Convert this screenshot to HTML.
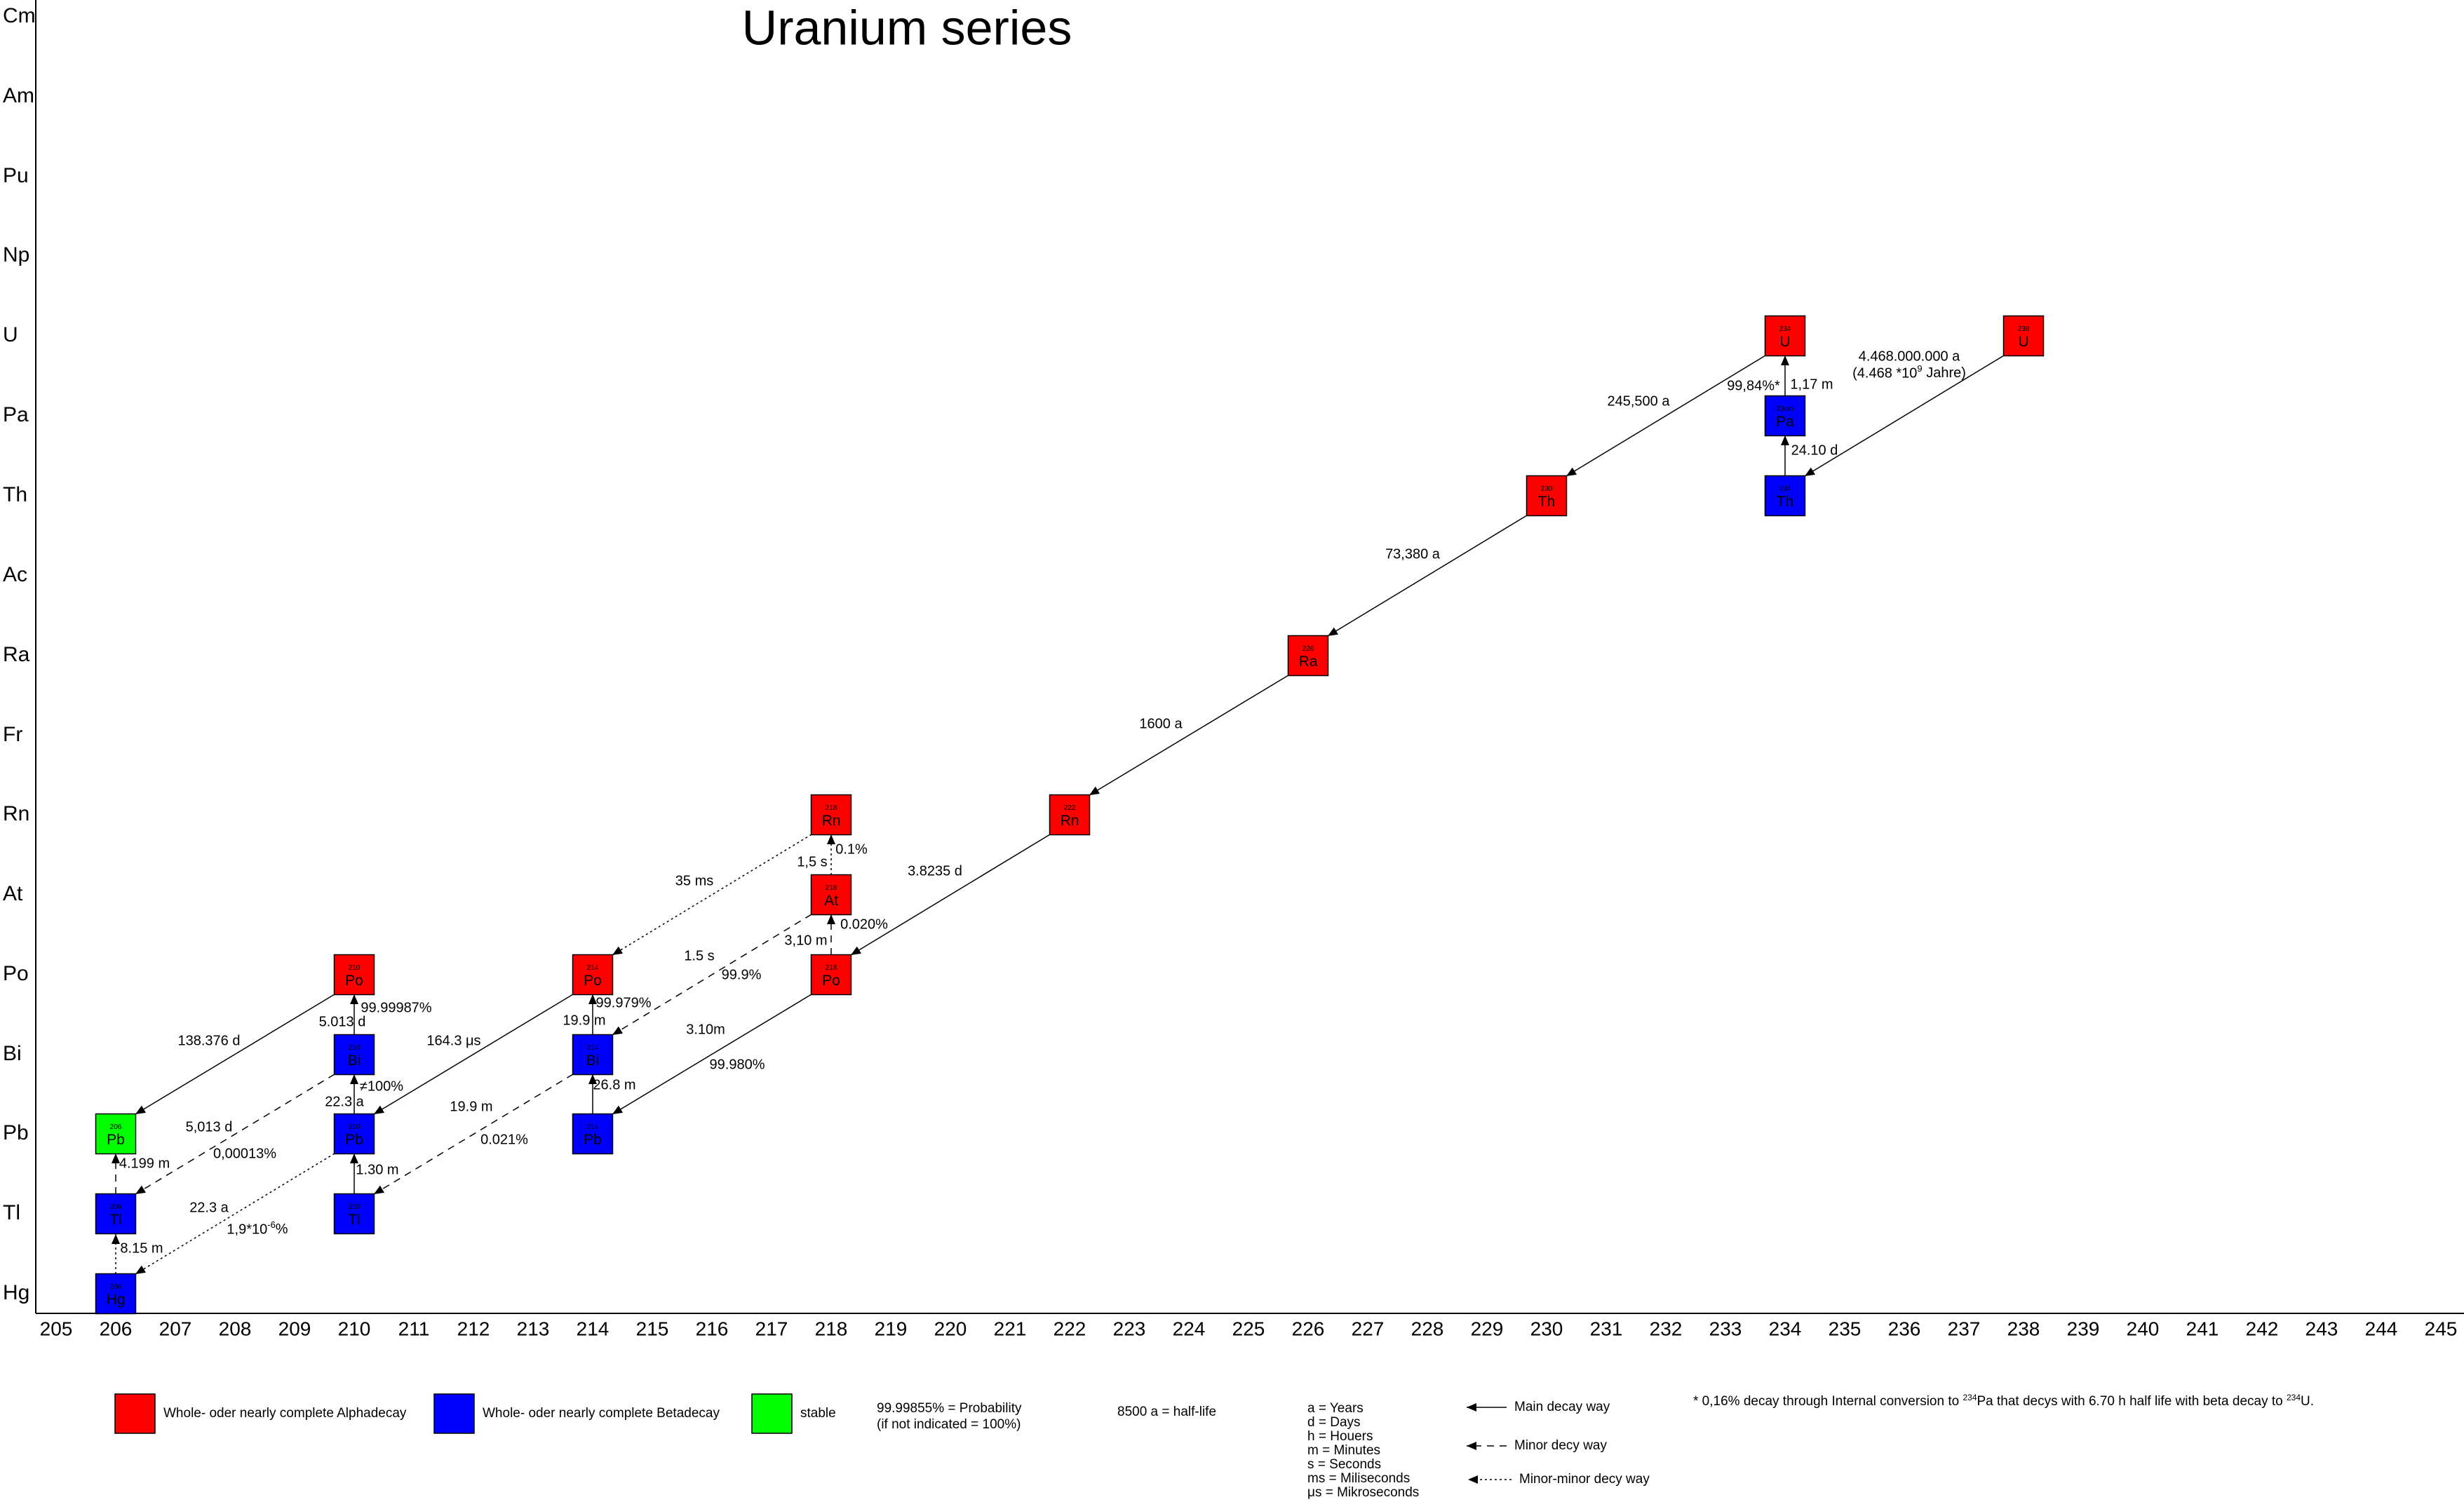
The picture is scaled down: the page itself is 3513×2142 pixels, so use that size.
<!DOCTYPE html>
<html><head><meta charset="utf-8"><style>
body{margin:0;background:#fff}
svg{display:block;font-family:"Liberation Sans",sans-serif}
.l{font-size:20px;text-anchor:middle;dominant-baseline:middle}
.e{font-size:30px;dominant-baseline:middle}
.t{font-size:28px;text-anchor:middle;dominant-baseline:middle}
.g{font-size:19px;dominant-baseline:middle}
.s{font-size:10px;text-anchor:middle}
.y{font-size:21px;text-anchor:middle}
</style></head><body>
<svg width="3513" height="2142" viewBox="0 0 3513 2142" xmlns="http://www.w3.org/2000/svg">
<defs><marker id="a" markerUnits="userSpaceOnUse" markerWidth="16" markerHeight="16" refX="14" refY="6" orient="auto"><path d="M0,0 L14,6 L0,12 z" fill="#000"/></marker></defs>
<text x="1293" y="45" font-size="70" text-anchor="middle" dominant-baseline="middle">Uranium series</text>
<line x1="51" y1="0" x2="51" y2="1873" stroke="#000" stroke-width="2"/>
<line x1="51" y1="1873" x2="3513" y2="1873" stroke="#000" stroke-width="2"/>
<g class="e">
<text x="4" y="24">Cm</text><text x="4" y="138">Am</text><text x="4" y="252">Pu</text><text x="4" y="365">Np</text><text x="4" y="479">U</text><text x="4" y="593">Pa</text><text x="4" y="707">Th</text><text x="4" y="821">Ac</text><text x="4" y="935">Ra</text><text x="4" y="1049">Fr</text><text x="4" y="1162">Rn</text><text x="4" y="1276">At</text><text x="4" y="1390">Po</text><text x="4" y="1504">Bi</text><text x="4" y="1617">Pb</text><text x="4" y="1731">Tl</text><text x="4" y="1845">Hg</text>
</g>
<g class="t">
<text x="80" y="1897">205</text><text x="165" y="1897">206</text><text x="250" y="1897">207</text><text x="335" y="1897">208</text><text x="420" y="1897">209</text><text x="505" y="1897">210</text><text x="590" y="1897">211</text><text x="675" y="1897">212</text><text x="760" y="1897">213</text><text x="845" y="1897">214</text><text x="930" y="1897">215</text><text x="1015" y="1897">216</text><text x="1100" y="1897">217</text><text x="1185" y="1897">218</text><text x="1270" y="1897">219</text><text x="1355" y="1897">220</text><text x="1440" y="1897">221</text><text x="1525" y="1897">222</text><text x="1610" y="1897">223</text><text x="1695" y="1897">224</text><text x="1780" y="1897">225</text><text x="1865" y="1897">226</text><text x="1950" y="1897">227</text><text x="2035" y="1897">228</text><text x="2120" y="1897">229</text><text x="2205" y="1897">230</text><text x="2290" y="1897">231</text><text x="2375" y="1897">232</text><text x="2460" y="1897">233</text><text x="2545" y="1897">234</text><text x="2630" y="1897">235</text><text x="2715" y="1897">236</text><text x="2800" y="1897">237</text><text x="2885" y="1897">238</text><text x="2970" y="1897">239</text><text x="3055" y="1897">240</text><text x="3140" y="1897">241</text><text x="3225" y="1897">242</text><text x="3310" y="1897">243</text><text x="3395" y="1897">244</text><text x="3480" y="1897">245</text>
</g>
<g stroke="#000" stroke-width="1.5" marker-end="url(#a)" fill="none">
<line x1="2857" y1="507" x2="2573" y2="679"/>
<line x1="2517" y1="507" x2="2233" y2="679"/>
<line x1="2177" y1="735" x2="1893" y2="907"/>
<line x1="1837" y1="963" x2="1553" y2="1134"/>
<line x1="1497" y1="1190" x2="1213" y2="1362"/>
<line x1="1157" y1="1418" x2="873" y2="1589"/>
<line x1="817" y1="1418" x2="533" y2="1589"/>
<line x1="477" y1="1418" x2="193" y2="1589"/>
<line x1="2545" y1="679" x2="2545" y2="621"/>
<line x1="2545" y1="565" x2="2545" y2="507"/>
<line x1="845" y1="1589" x2="845" y2="1532"/>
<line x1="845" y1="1476" x2="845" y2="1418"/>
<line x1="505" y1="1703" x2="505" y2="1645"/>
<line x1="505" y1="1589" x2="505" y2="1532"/>
<line x1="505" y1="1476" x2="505" y2="1418"/>
</g>
<g stroke="#000" stroke-width="1.5" marker-end="url(#a)" fill="none" stroke-dasharray="10,8">
<line x1="1157" y1="1304" x2="873" y2="1476"/>
<line x1="817" y1="1532" x2="533" y2="1703"/>
<line x1="477" y1="1532" x2="193" y2="1703"/>
<line x1="165" y1="1703" x2="165" y2="1645"/>
<line x1="1185" y1="1362" x2="1185" y2="1304"/>
</g>
<g stroke="#000" stroke-width="1.5" marker-end="url(#a)" fill="none" stroke-dasharray="3,4">
<line x1="1157" y1="1190" x2="873" y2="1362"/>
<line x1="477" y1="1645" x2="193" y2="1817"/>
<line x1="165" y1="1817" x2="165" y2="1760"/>
<line x1="1185" y1="1248" x2="1185" y2="1190"/>
</g>
<g stroke="#000" stroke-width="1.5">
<rect x="2856.5" y="450.5" width="57" height="57" fill="#f00"/>
<rect x="2516.5" y="450.5" width="57" height="57" fill="#f00"/>
<rect x="2516.5" y="564.5" width="57" height="57" fill="#00f"/>
<rect x="2516.5" y="678.5" width="57" height="57" fill="#00f"/>
<rect x="2176.5" y="678.5" width="57" height="57" fill="#f00"/>
<rect x="1836.5" y="906.5" width="57" height="57" fill="#f00"/>
<rect x="1496.5" y="1133.5" width="57" height="57" fill="#f00"/>
<rect x="1156.5" y="1361.5" width="57" height="57" fill="#f00"/>
<rect x="1156.5" y="1247.5" width="57" height="57" fill="#f00"/>
<rect x="1156.5" y="1133.5" width="57" height="57" fill="#f00"/>
<rect x="816.5" y="1588.5" width="57" height="57" fill="#00f"/>
<rect x="816.5" y="1475.5" width="57" height="57" fill="#00f"/>
<rect x="816.5" y="1361.5" width="57" height="57" fill="#f00"/>
<rect x="476.5" y="1702.5" width="57" height="57" fill="#00f"/>
<rect x="476.5" y="1588.5" width="57" height="57" fill="#00f"/>
<rect x="476.5" y="1475.5" width="57" height="57" fill="#00f"/>
<rect x="476.5" y="1361.5" width="57" height="57" fill="#f00"/>
<rect x="136.5" y="1816.5" width="57" height="57" fill="#00f"/>
<rect x="136.5" y="1702.5" width="57" height="57" fill="#00f"/>
<rect x="136.5" y="1588.5" width="57" height="57" fill="#0f0"/>
</g>
<g>
<text class="s" x="2885" y="472">238</text><text class="y" x="2885" y="494">U</text>
<text class="s" x="2545" y="472">234</text><text class="y" x="2545" y="494">U</text>
<text class="s" x="2545" y="586">234m</text><text class="y" x="2545" y="608">Pa</text>
<text class="s" x="2545" y="700">234</text><text class="y" x="2545" y="722">Th</text>
<text class="s" x="2205" y="700">230</text><text class="y" x="2205" y="722">Th</text>
<text class="s" x="1865" y="928">226</text><text class="y" x="1865" y="950">Ra</text>
<text class="s" x="1525" y="1155">222</text><text class="y" x="1525" y="1177">Rn</text>
<text class="s" x="1185" y="1383">218</text><text class="y" x="1185" y="1405">Po</text>
<text class="s" x="1185" y="1269">218</text><text class="y" x="1185" y="1291">At</text>
<text class="s" x="1185" y="1155">218</text><text class="y" x="1185" y="1177">Rn</text>
<text class="s" x="845" y="1610">214</text><text class="y" x="845" y="1632">Pb</text>
<text class="s" x="845" y="1497">214</text><text class="y" x="845" y="1519">Bi</text>
<text class="s" x="845" y="1383">214</text><text class="y" x="845" y="1405">Po</text>
<text class="s" x="505" y="1724">210</text><text class="y" x="505" y="1746">Tl</text>
<text class="s" x="505" y="1610">210</text><text class="y" x="505" y="1632">Pb</text>
<text class="s" x="505" y="1497">210</text><text class="y" x="505" y="1519">Bi</text>
<text class="s" x="505" y="1383">210</text><text class="y" x="505" y="1405">Po</text>
<text class="s" x="165" y="1838">206</text><text class="y" x="165" y="1860">Hg</text>
<text class="s" x="165" y="1724">206</text><text class="y" x="165" y="1746">Tl</text>
<text class="s" x="165" y="1610">206</text><text class="y" x="165" y="1632">Pb</text>
</g>
<g class="l">
<text x="2722" y="509">4.468.000.000 a</text>
<text x="2722" y="533">(4.468 *10<tspan font-size="13" dy="-6">9</tspan><tspan dy="6"> Jahre)</tspan></text>
<text x="2336" y="573">245,500 a</text>
<text x="2500" y="551">99,84%*</text>
<text x="2583" y="549">1,17 m</text>
<text x="2587" y="643">24.10 d</text>
<text x="2014" y="791">73,380 a</text>
<text x="1655" y="1033">1600 a</text>
<text x="1333" y="1243">3.8235 d</text>
<text x="990" y="1257">35 ms</text>
<text x="1158" y="1230">1,5 s</text>
<text x="1214" y="1212">0.1%</text>
<text x="1232" y="1319">0.020%</text>
<text x="1149" y="1342">3,10 m</text>
<text x="997" y="1364">1.5 s</text>
<text x="1057" y="1391">99.9%</text>
<text x="1006" y="1469">3.10m</text>
<text x="1051" y="1519">99.980%</text>
<text x="833" y="1456">19.9 m</text>
<text x="889" y="1431">99.979%</text>
<text x="876" y="1548">26.8 m</text>
<text x="647" y="1485">164.3 μs</text>
<text x="672" y="1579">19.9 m</text>
<text x="719" y="1626">0.021%</text>
<text x="538" y="1669">1.30 m</text>
<text x="491" y="1572">22.3 a</text>
<text x="544" y="1550">≠100%</text>
<text x="488" y="1458">5.013 d</text>
<text x="565" y="1438">99.99987%</text>
<text x="298" y="1485">138.376 d</text>
<text x="298" y="1608">5,013 d</text>
<text x="349" y="1646">0,00013%</text>
<text x="206" y="1660">4.199 m</text>
<text x="298" y="1723">22.3 a</text>
<text x="367" y="1754">1,9*10<tspan font-size="13" dy="-6">-6</tspan><tspan dy="6">%</tspan></text>
<text x="202" y="1781">8.15 m</text>
</g>
<g stroke="#000" stroke-width="1.5">
<rect x="164" y="1988" width="57" height="56" fill="#f00"/>
<rect x="619" y="1988" width="57" height="56" fill="#00f"/>
<rect x="1072" y="1988" width="57" height="56" fill="#0f0"/>
</g>
<g class="g">
<text x="233" y="2016">Whole- oder nearly complete Alphadecay</text>
<text x="688" y="2016">Whole- oder nearly complete Betadecay</text>
<text x="1141" y="2016">stable</text>
<text x="1250" y="2009">99.99855% = Probability</text>
<text x="1250" y="2032">(if not indicated = 100%)</text>
<text x="1593" y="2014">8500 a = half-life</text>
<text x="1864" y="2009">a = Years</text>
<text x="1864" y="2029">d = Days</text>
<text x="1864" y="2049">h = Houers</text>
<text x="1864" y="2069">m = Minutes</text>
<text x="1864" y="2089">s = Seconds</text>
<text x="1864" y="2109">ms = Miliseconds</text>
<text x="1864" y="2129">μs = Mikroseconds</text>
<text x="2159" y="2007">Main decay way</text>
<text x="2159" y="2062">Minor decy way</text>
<text x="2166" y="2110">Minor-minor decy way</text>
<text x="2414" y="1999">* 0,16% decay through Internal conversion to <tspan font-size="12" dy="-5">234</tspan><tspan dy="5">Pa that decys with 6.70 h half life with beta decay to </tspan><tspan font-size="12" dy="-5">234</tspan><tspan dy="5">U.</tspan></text>
</g>
<g stroke="#000" stroke-width="1.5" marker-end="url(#a)">
<line x1="2148" y1="2007" x2="2091" y2="2007"/>
<line x1="2148" y1="2062" x2="2091" y2="2062" stroke-dasharray="10,8"/>
<line x1="2155" y1="2110" x2="2093" y2="2110" stroke-dasharray="3,4"/>
</g>
</svg>
</body></html>
